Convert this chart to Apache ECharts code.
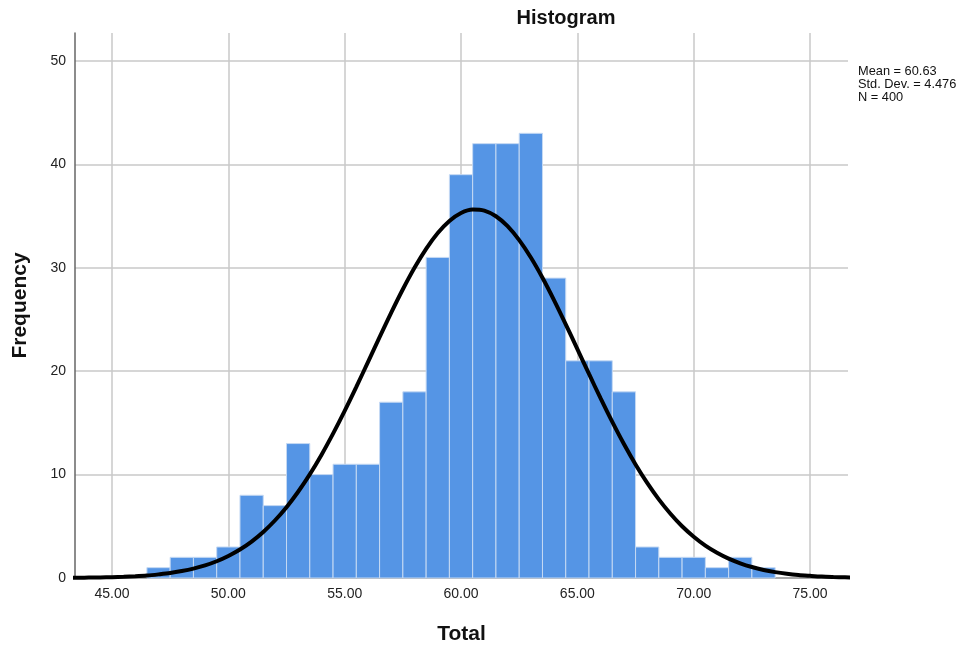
<!DOCTYPE html>
<html>
<head>
<meta charset="utf-8">
<script src="https://cdn.jsdelivr.net/npm/echarts@6/dist/echarts.min.js"></script>
<style>
html,body{margin:0;padding:0;background:#fff;}
#c{width:971px;height:650px;}
</style>
</head>
<body>
<div id="c"></div>
<script>
// Histogram bins (bin centers, width 1)
const binCenters = [47,48,49,50,51,52,53,54,55,56,57,58,59,60,61,62,63,64,65,66,67,68,69,70,71,72,73];
const frequencies = [1,2,2,3,8,7,13,10,11,11,17,18,31,39,42,42,43,29,21,21,18,3,2,2,1,2,1];
const binWidth = 1;

// Normal curve (every half unit)
const curveX = [43,43.5,44,44.5,45,45.5,46,46.5,47,47.5,48,48.5,49,49.5,50,50.5,51,51.5,52,52.5,53,53.5,54,54.5,55,55.5,56,56.5,57,57.5,58,58.5,59,59.5,60,60.5,61,61.5,62,62.5,63,63.5,64,64.5,65,65.5,66,66.5,67,67.5,68,68.5,69,69.5,70,70.5,71,71.5,72,72.5,73,73.5,74,74.5,75,75.5,76,76.5,77];
const curveY = [0.02,0.02,0.04,0.05,0.08,0.12,0.17,0.24,0.35,0.48,0.67,0.91,1.22,1.62,2.13,2.75,3.52,4.45,5.56,6.85,8.34,10.02,11.9,13.96,16.16,18.48,20.88,23.29,25.66,27.92,30.0,31.83,33.36,34.53,35.3,35.64,35.53,34.98,34.02,32.67,30.99,29.03,26.85,24.53,22.13,19.73,17.36,15.09,12.95,10.98,9.19,7.6,6.21,5.0,3.99,3.13,2.44,1.87,1.42,1.06,0.78,0.57,0.41,0.29,0.21,0.14,0.10,0.07,0.04];

const xTicks = [45,50,55,60,65,70,75];
const yTicks = [0,10,20,30,40,50];
const statsLines = ['Mean = 60.63','Std. Dev. = 4.476','N = 400'];

const chart = echarts.init(document.getElementById('c'), null, {renderer:'canvas'});
const font = 'Liberation Sans, Arial, sans-serif';

chart.setOption({
  animation: false,
  backgroundColor: '#fff',
  title: [
    {text: 'Histogram', left: 561, top: 3, textAlign: 'center',
     textStyle: {fontFamily: font, fontSize: 20, fontWeight: 'bold', color: '#111'}},
    {text: statsLines.join('\n'), left: 853, top: 60,
     textStyle: {fontFamily: font, fontSize: 12.8, fontWeight: 'normal', color: '#111', lineHeight: 13}}
  ],
  grid: {left: 75, right: 123, top: 33, bottom: 72},
  xAxis: {
    type: 'value', min: 43.41, max: 76.63,
    name: 'Total', nameLocation: 'middle', nameGap: 46,
    nameTextStyle: {fontFamily: font, fontSize: 21, fontWeight: 'bold', color: '#111'},
    axisLine: {show: true, lineStyle: {color: '#999', width: 1.5}},
    axisTick: {show: false, customValues: xTicks},
    axisLabel: {customValues: xTicks, formatter: v => v.toFixed(2), fontFamily: font, fontSize: 14, color: '#222', margin: 9},
    splitLine: {show: true, lineStyle: {color: '#c8c8c8', width: 1.5}}
  },
  yAxis: {
    type: 'value', min: 0, max: 52.7,
    name: 'Frequency', nameLocation: 'middle', nameGap: 44,
    nameTextStyle: {fontFamily: font, fontSize: 21, fontWeight: 'bold', color: '#111'},
    axisLine: {show: true, lineStyle: {color: '#666', width: 1.5}},
    axisTick: {show: false, customValues: yTicks},
    axisLabel: {customValues: yTicks, fontFamily: font, fontSize: 14, color: '#222', margin: 9},
    splitLine: {show: true, lineStyle: {color: '#c8c8c8', width: 1.5}}
  },
  series: [
    {
      type: 'custom',
      data: binCenters.map((c, i) => [c, frequencies[i]]),
      renderItem: function (params, api) {
        const c = api.value(0), f = api.value(1);
        const p0 = api.coord([c - binWidth / 2, f]);
        const p1 = api.coord([c + binWidth / 2, 0]);
        return {
          type: 'rect',
          shape: {x: p0[0], y: p0[1], width: p1[0] - p0[0], height: p1[1] - p0[1]},
          style: {fill: '#5595e5', stroke: '#c5d9f3', lineWidth: 1}
        };
      },
      z: 2
    },
    {
      type: 'line',
      data: curveX.map((x, i) => [x, curveY[i]]),
      smooth: 0.3,
      showSymbol: false,
      clip: true,
      lineStyle: {color: '#000', width: 4},
      z: 3
    }
  ]
});
</script>
</body>
</html>
